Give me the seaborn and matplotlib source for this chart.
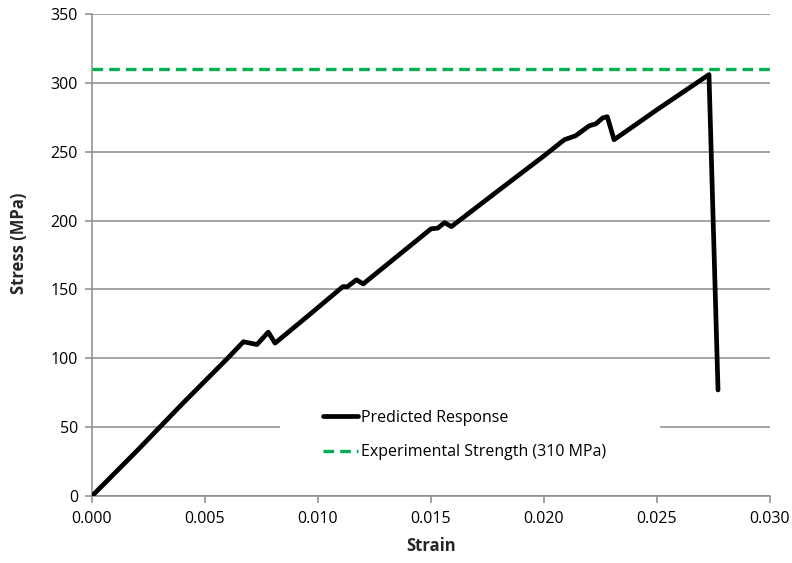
import matplotlib
matplotlib.use("Agg")
import matplotlib.pyplot as plt
from matplotlib.patches import Rectangle
import seaborn as sns
import pandas as pd

# Predicted stress-strain response
strain = [0.0, 0.0020, 0.0040, 0.0060, 0.0067, 0.0073, 0.0078, 0.0081, 0.0095,
          0.0111, 0.0113, 0.0117, 0.0120, 0.0135, 0.0150, 0.0153, 0.0156, 0.0159,
          0.0180, 0.0200, 0.0209, 0.0214, 0.0220, 0.0223, 0.0226, 0.0228, 0.0231,
          0.0250, 0.0273, 0.0277]
stress = [0, 33, 67, 100, 112, 110, 119, 111, 130,
          152, 152, 157, 154, 174, 194, 194.5, 198.5, 195.6,
          222, 247, 258.7, 261.6, 268.8, 270.3, 274.6, 275.4, 258.7,
          280.5, 306, 77]

# Experimental strength reference line
exp_strain = [0.0, 0.030]
exp_stress = [310, 310]

x_ticks = [0.000, 0.005, 0.010, 0.015, 0.020, 0.025, 0.030]
y_ticks = [0, 50, 100, 150, 200, 250, 300, 350]

sns.set_theme(style="white")
plt.rcParams["font.family"] = ["Open Sans", "DejaVu Sans"]

grey = "#8c8c8c"
fig = plt.figure(figsize=(7.92, 5.63), dpi=100)
ax = fig.add_axes([92 / 792, 67 / 563, 678 / 792, 482 / 563])

pred = pd.DataFrame({"Strain": strain, "Stress": stress})
expd = pd.DataFrame({"Strain": exp_strain, "Stress": exp_stress})

sns.lineplot(data=pred, x="Strain", y="Stress", ax=ax, color="black",
             linewidth=3.4, sort=False, estimator=None,
             label="Predicted Response", zorder=3)
sns.lineplot(data=expd, x="Strain", y="Stress", ax=ax, color="#00b050",
             linewidth=2.4, sort=False, estimator=None,
             label="Experimental Strength (310 MPa)", zorder=3)
ax.lines[-1].set_dashes([3.2, 1.8])

ax.set_xlim(0, 0.030)
ax.set_ylim(0, 350)
ax.set_xticks(x_ticks)
ax.set_xticklabels([f"{t:.3f}" for t in x_ticks])
ax.set_yticks(y_ticks)
ax.set_yticklabels([str(t) for t in y_ticks])

ax.set_axisbelow(True)
ax.yaxis.grid(True, color=grey, linewidth=1.1)
ax.xaxis.grid(False)

for side in ["top", "right"]:
    ax.spines[side].set_visible(False)
for side in ["left", "bottom"]:
    ax.spines[side].set_color(grey)
    ax.spines[side].set_linewidth(1.1)

ax.tick_params(axis="both", which="major", direction="out", length=5,
               width=1.1, color=grey, labelsize=11.5, labelcolor="black",
               left=True, bottom=True)
ax.tick_params(axis="x", pad=6)
ax.tick_params(axis="y", pad=5)

ax.set_xlabel("Strain", fontsize=12, fontweight="bold", labelpad=7)
ax.set_ylabel("Stress (MPa)", fontsize=12, fontweight="bold")
ax.yaxis.set_label_coords(-0.094, 0.525)

# white backdrop behind the legend
ax.add_patch(Rectangle((0.277, 0.044), 0.561, 0.166, transform=ax.transAxes,
                       facecolor="white", edgecolor="none", zorder=1))

leg = ax.legend(loc="center left", bbox_to_anchor=(0.3407, 0.1266),
                frameon=False, fontsize=11.5, borderpad=0, borderaxespad=0,
                handlelength=2.2, handletextpad=0.15, labelspacing=1.15)
for txt in leg.get_texts():
    txt.set_color("black")

fig.savefig("out.png", dpi=100, facecolor="white")
